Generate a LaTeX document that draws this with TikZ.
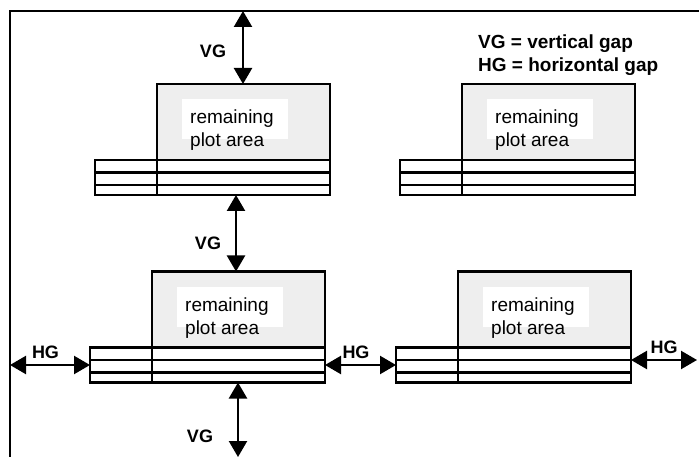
\documentclass[tikz,border=0pt]{standalone}
\usepackage{fontspec}
\setmainfont{Liberation Sans}
\usetikzlibrary{arrows.meta}
\definecolor{areagray}{HTML}{EEEEEE}
\newcommand\mypanel[3]{%
  % #1 id, #2 box left x, #3 box top y
  \node[tablebox, minimum width=235pt, minimum height=35pt, anchor=north west] (t#1) at (#2-62,#3+76) {};
  \draw[rowline] (#2-62,#3+88.5) -- (#2+173,#3+88.5);
  \draw[rowline] (#2-62,#3+101) -- (#2+173,#3+101);
  \draw[rowline] (#2,#3+76) -- (#2,#3+111);
  \node[plotbox, minimum width=173pt, minimum height=76pt, anchor=north west] (pa#1) at (#2,#3) {};
  \node[whitebox, minimum width=106pt, minimum height=40pt, anchor=north west] (w#1) at (#2+25,#3+15) {};
  \node[areatext] (r#1) at (#2+33,#3+40) {remaining};
  \node[areatext] (p#1) at (#2+33,#3+63) {plot area};
}
\begin{document}
\begin{tikzpicture}[x=1pt,y=-1pt,
  tablebox/.style={draw, line width=2.3pt, fill=white, inner sep=0pt, outer sep=0pt},
  rowline/.style={line width=2.3pt},
  plotbox/.style={draw, line width=2.3pt, fill=areagray, inner sep=0pt, outer sep=0pt},
  whitebox/.style={fill=white, inner sep=0pt, outer sep=0pt},
  areatext/.style={anchor=base west, inner sep=0pt, font=\fontsize{19}{23}\selectfont},
  gaplabel/.style={anchor=base, inner sep=0pt, font=\fontsize{18}{22}\selectfont\bfseries},
  legendtext/.style={anchor=base west, inner sep=0pt, font=\fontsize{19}{23}\selectfont\bfseries},
  gaparrow/.style={{Triangle[length=16pt,width=18pt]}-{Triangle[length=16pt,width=18pt]}, line width=2.3pt}]
\useasboundingbox (0,0) rectangle (699,457);
\fill[white] (0,0) rectangle (699,457);
% frame
\draw[line width=2.4pt] (9,11) -- (699,11);
\draw[line width=1.8pt] (10,11) -- (10,457);
% panels
\mypanel{1}{157}{84}
\mypanel{2}{462}{84}
\mypanel{3}{152}{271.5}
\mypanel{4}{458}{271.5}
% legend
\node[legendtext] (leg1) at (478,49) {VG = vertical gap};
\node[legendtext] (leg2) at (478,72) {HG = horizontal gap};
% coordinates for free ends
\coordinate (topend) at (243,11);
\coordinate (midx) at (236,0);
\coordinate (botx) at (238,0);
\coordinate (botend) at (238,457);
\coordinate (leftend) at (10,365);
\coordinate (rightend) at (697,360);
% arrows
\draw[gaparrow] (topend) -- (topend |- pa1.north);
\draw[gaparrow] (midx |- t1.south) -- (midx |- pa3.north);
\draw[gaparrow] (botx |- t3.south) -- (botend);
\draw[gaparrow] (leftend) -- (t3.west);
\draw[gaparrow] (t3.east) -- (t4.west);
\draw[gaparrow] (t4.east |- rightend) -- (rightend);
% labels
\node[gaplabel] (vg1) at (213,58) {VG};
\node[gaplabel] (vg2) at (208,250) {VG};
\node[gaplabel] (vg3) at (200,442) {VG};
\node[gaplabel] (hg1) at (45.5,358) {HG};
\node[gaplabel] (hg2) at (356,358) {HG};
\node[gaplabel] (hg3) at (664,353) {HG};
\end{tikzpicture}
\end{document}
